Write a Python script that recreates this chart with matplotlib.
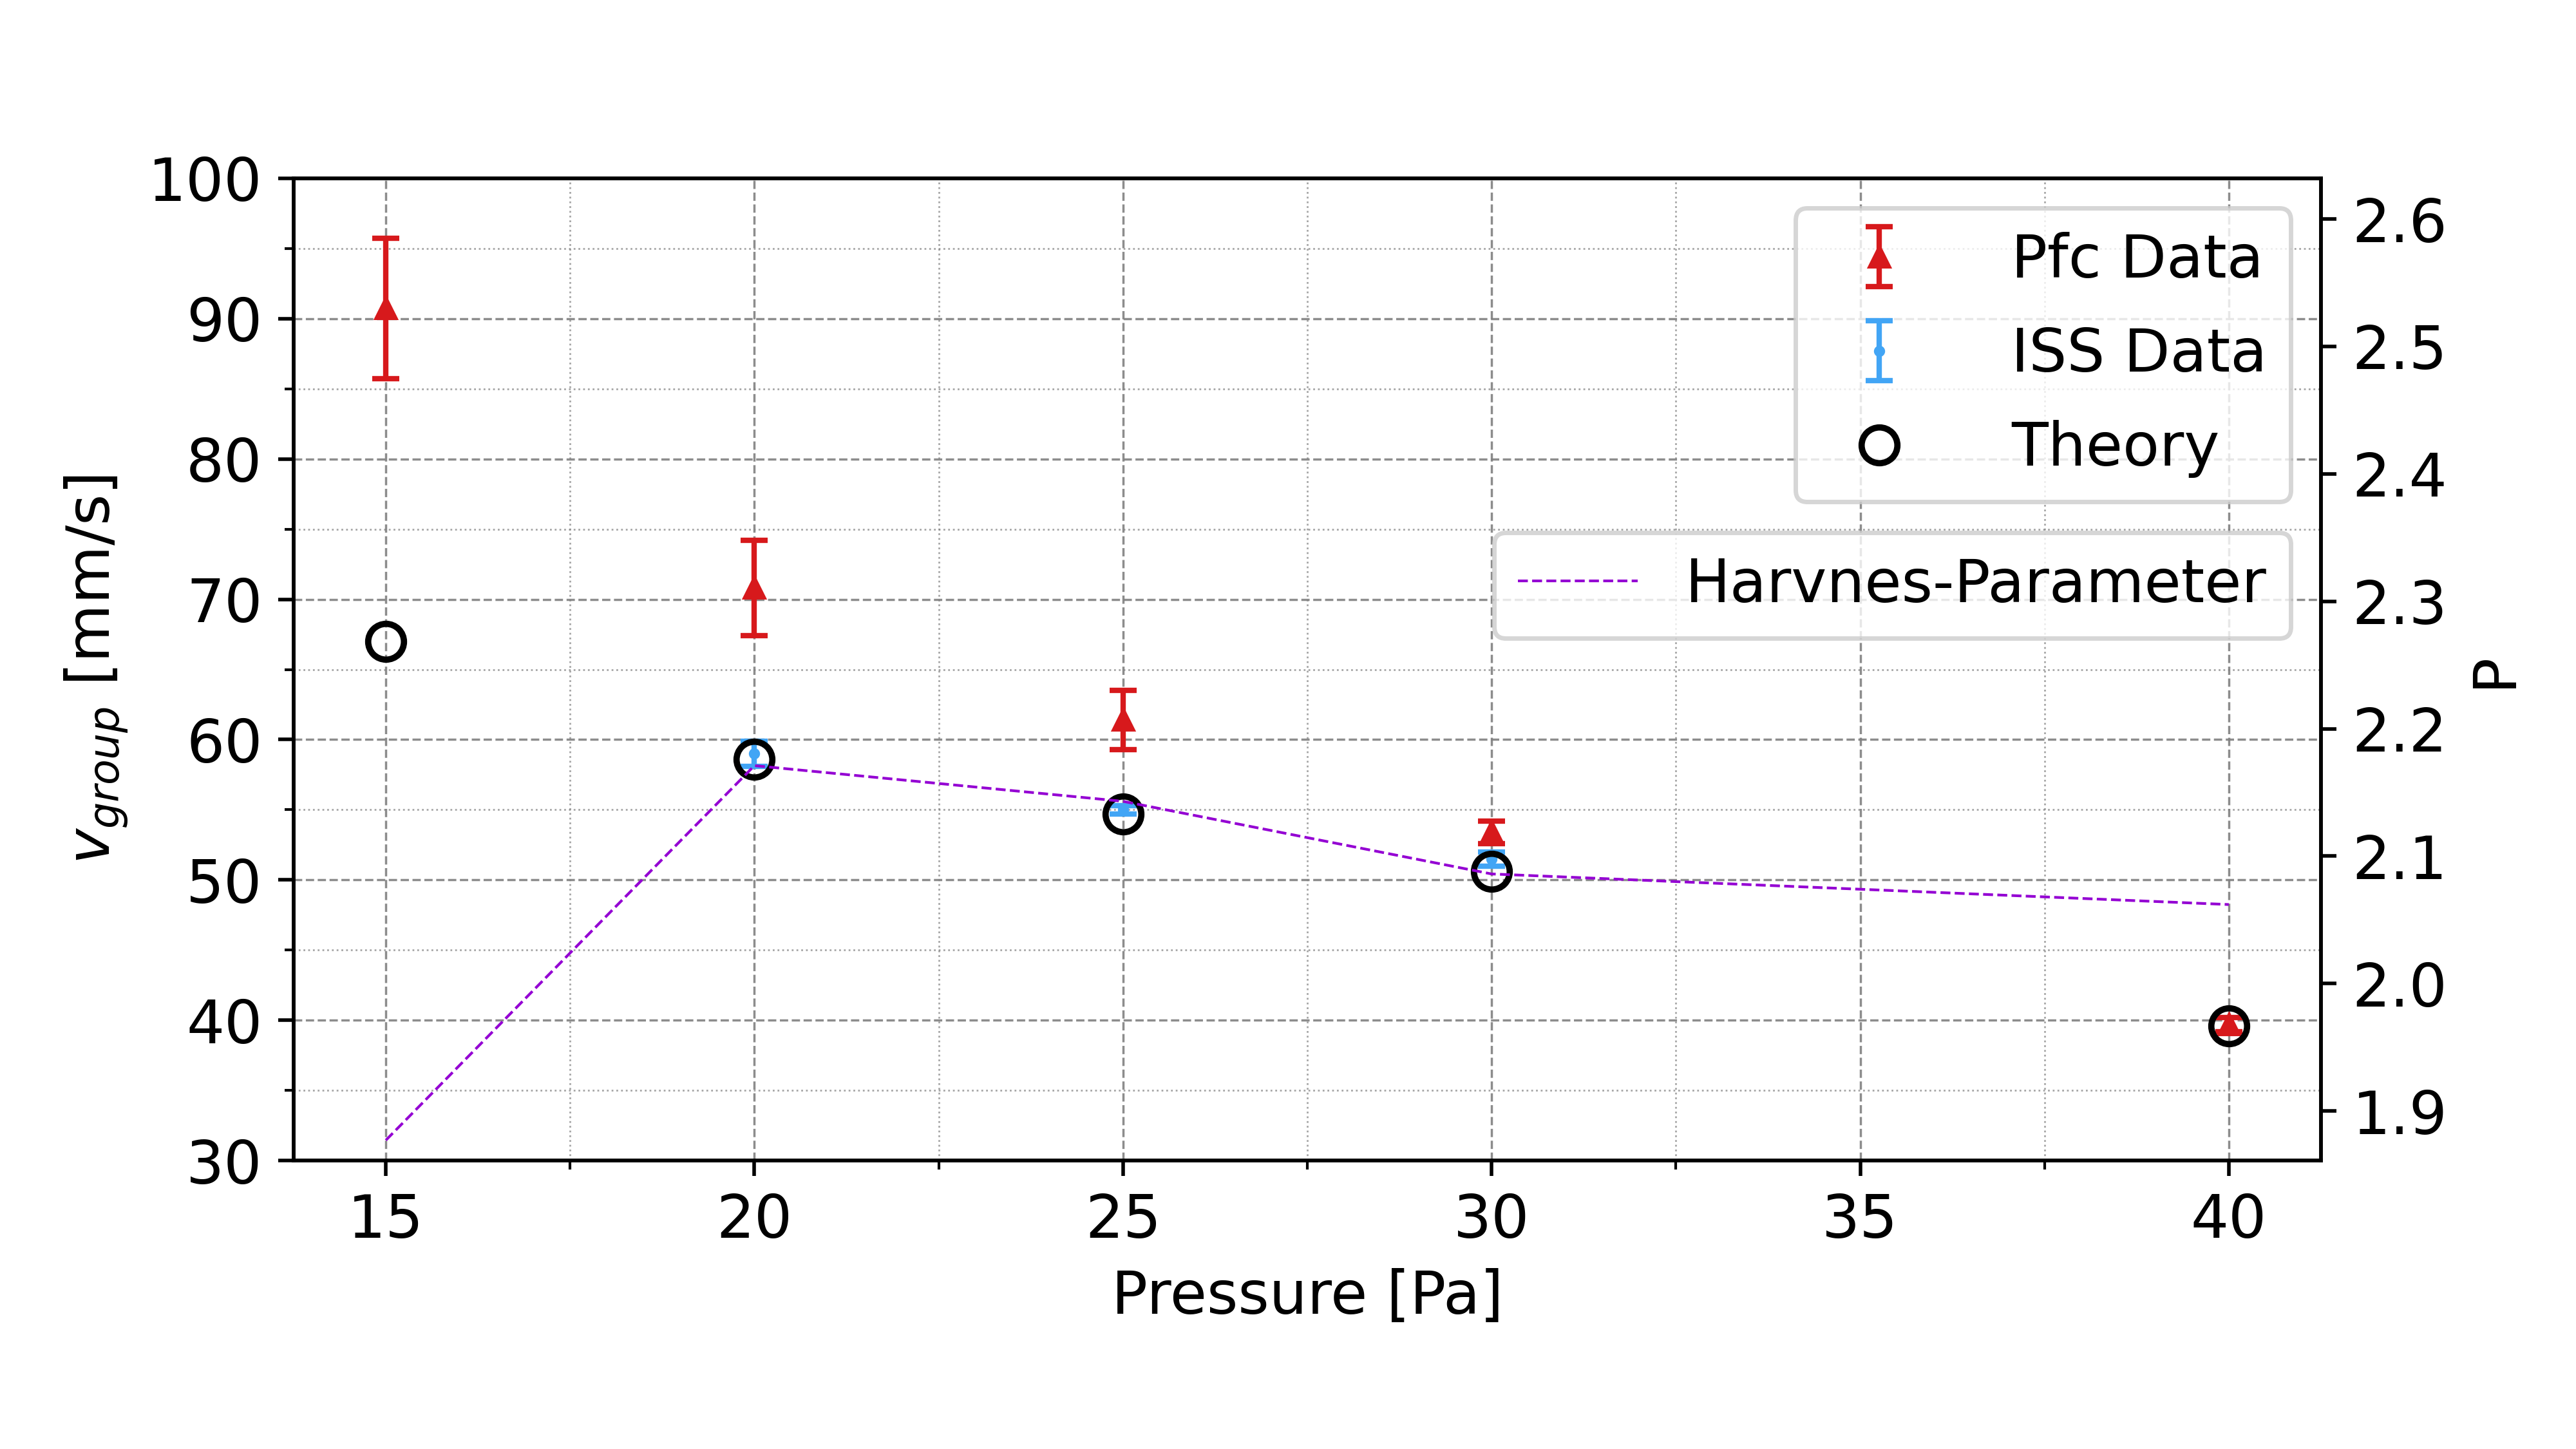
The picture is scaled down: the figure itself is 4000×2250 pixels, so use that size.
import matplotlib
matplotlib.use("Agg")
import matplotlib.pyplot as plt
from matplotlib.ticker import MultipleLocator

pfc_x = [15, 20, 25, 30, 40]
pfc_y = [90.7, 70.8, 61.4, 53.4, 39.7]
pfc_err = [5.0, 3.4, 2.1, 0.8, 0.5]
iss_x = [20, 25, 30]
iss_y = [59.0, 55.0, 51.5]
iss_err = [0.9, 0.3, 0.5]
th_x = [15, 20, 25, 30, 40]
th_y = [67.0, 58.6, 54.7, 50.6, 39.6]
p_x = [15, 20, 25, 30, 40]
p_y = [1.877, 2.171, 2.143, 2.086, 2.062]

plt.rcParams['font.size'] = 13.4
fig = plt.figure(figsize=(8, 4.5), dpi=500)
ax = fig.add_axes([0.114, 0.199, 0.787, 0.678])
h1 = ax.errorbar(pfc_x, pfc_y, yerr=pfc_err, fmt='^', color='#d7191c', ms=4, capsize=3, elinewidth=1.2, capthick=1.2, label='Pfc Data', zorder=3)
h2 = ax.errorbar(iss_x, iss_y, yerr=iss_err, fmt='.', color='#42a5f5', ms=3, capsize=3, elinewidth=1.2, capthick=1.2, label='ISS Data', zorder=3)
h3, = ax.plot(th_x, th_y, 'o', mfc='none', mec='black', mew=1.4, ms=8, label='Theory', zorder=4)
ax.set_ylim(30, 100)
ax.set_xlim(13.75, 41.25)
ax.xaxis.set_major_locator(MultipleLocator(5))
ax.xaxis.set_minor_locator(MultipleLocator(2.5))
ax.yaxis.set_major_locator(MultipleLocator(10))
ax.yaxis.set_minor_locator(MultipleLocator(5))
ax.grid(which='major', ls='--', color='gray', lw=0.5, alpha=0.9)
ax.grid(which='minor', ls=':', color='gray', lw=0.4, alpha=0.7)
ax.set_xlabel('Pressure [Pa]')
ax.set_ylabel(r'$v_{group}$ [mm/s]')
ax.legend(handles=[h1, h2, h3], labels=['Pfc Data', 'ISS Data', 'Theory'], loc='upper right',
          handletextpad=1.2, borderpad=0.4, labelspacing=0.6)

ax2 = ax.twinx()
ax2.plot(p_x, p_y, '--', color='#9400d3', lw=0.6, label='Harvnes-Parameter')
ax2.set_ylim(1.861, 2.632)
ax2.yaxis.set_major_locator(MultipleLocator(0.1))
ax2.set_ylabel('P')
ax2.legend(loc='upper right', bbox_to_anchor=(1.0, 0.67), borderpad=0.4)
fig.savefig('out.png', dpi=500)
